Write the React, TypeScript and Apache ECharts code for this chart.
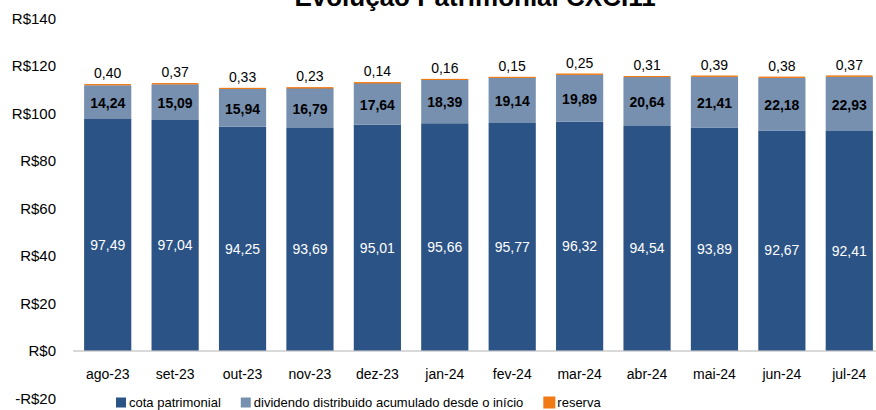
import React, { useEffect, useRef } from "react";
import * as echarts from "echarts";

const categories = ["ago-23", "set-23", "out-23", "nov-23", "dez-23", "jan-24", "fev-24", "mar-24", "abr-24", "mai-24", "jun-24", "jul-24"];
const cotaPatrimonial = [97.49, 97.04, 94.25, 93.69, 95.01, 95.66, 95.77, 96.32, 94.54, 93.89, 92.67, 92.41];
const dividendoAcumulado = [14.24, 15.09, 15.94, 16.79, 17.64, 18.39, 19.14, 19.89, 20.64, 21.41, 22.18, 22.93];
const reserva = [0.40, 0.37, 0.33, 0.23, 0.14, 0.16, 0.15, 0.25, 0.31, 0.39, 0.38, 0.37];
const yTicks = { min: -20, max: 140, interval: 20 };

const FONT = "'Liberation Sans', Arial, sans-serif";
const fmt = (v: number) => v.toFixed(2).replace(".", ",");

export default function App() {
  const ref = useRef<HTMLDivElement>(null);
  useEffect(() => {
    document.body.style.margin = "0";
    const chart = echarts.init(ref.current!, null, { renderer: "svg" });
    const gridTop = 18;
    const gridBottom = 12;
    const plotH = 410 - gridTop - gridBottom;
    const zeroOffset = -plotH * (0 - yTicks.min) / (yTicks.max - yTicks.min);
    chart.setOption({
      animation: false,
      textStyle: { fontFamily: FONT },
      title: {
        text: "Evolução Patrimonial CXCI11",
        left: 470,
        textAlign: "center",
        top: -21,
        textStyle: { fontFamily: FONT, fontSize: 26, fontWeight: "bold", color: "#000" },
      },
      legend: {
        left: 111,
        top: 391,
        itemWidth: 10,
        itemHeight: 10,
        itemGap: 20,
        icon: "rect",
        textStyle: { fontFamily: FONT, fontSize: 13, color: "#000", padding: [0, 0, 0, -2] },
        data: ["cota patrimonial", "dividendo distribuido acumulado desde o início", "reserva"],
      },
      grid: { left: 74, right: -7, top: gridTop, bottom: gridBottom, containLabel: false, outerBoundsMode: "none" },
      xAxis: {
        type: "category",
        data: categories,
        offset: zeroOffset,
        axisLine: { onZero: false, lineStyle: { color: "#d9d9d9", width: 2 } },
        axisTick: { show: false },
        axisLabel: { fontFamily: FONT, fontSize: 14, color: "#000", margin: 16 },
      },
      yAxis: {
        type: "value",
        min: yTicks.min,
        max: yTicks.max,
        interval: yTicks.interval,
        splitLine: { show: false },
        axisLine: { show: false },
        axisTick: { show: false },
        axisLabel: {
          fontFamily: FONT,
          fontSize: 15,
          color: "#000",
          margin: 18,
          formatter: (v: number) => (v < 0 ? "-R$" + Math.abs(v) : "R$" + v),
        },
      },
      series: [
        {
          name: "cota patrimonial",
          type: "bar",
          stack: "total",
          barCategoryGap: "30%",
          data: cotaPatrimonial,
          itemStyle: { color: "#2C5385" },
          label: {
            show: true,
            position: "inside",
            offset: [0, 10],
            color: "#fff",
            fontFamily: FONT,
            fontSize: 14,
            formatter: (p: any) => fmt(p.value),
          },
        },
        {
          name: "dividendo distribuido acumulado desde o início",
          type: "bar",
          stack: "total",
          data: dividendoAcumulado,
          itemStyle: { color: "#7790B0" },
          label: {
            show: true,
            position: "inside",
            offset: [0, 1],
            color: "#000",
            fontWeight: "bold",
            fontFamily: FONT,
            fontSize: 14,
            formatter: (p: any) => fmt(p.value),
          },
        },
        {
          name: "reserva",
          type: "bar",
          stack: "total",
          data: reserva,
          itemStyle: { color: "#F07A14", borderColor: "#F07A14", borderWidth: 1 },
          label: {
            show: true,
            position: "top",
            distance: 4,
            color: "#000",
            fontFamily: FONT,
            fontSize: 14,
            formatter: (p: any) => fmt(p.value),
          },
        },
      ],
    });
    return () => chart.dispose();
  }, []);
  return <div ref={ref} style={{ width: 876, height: 410 }} />;
}
